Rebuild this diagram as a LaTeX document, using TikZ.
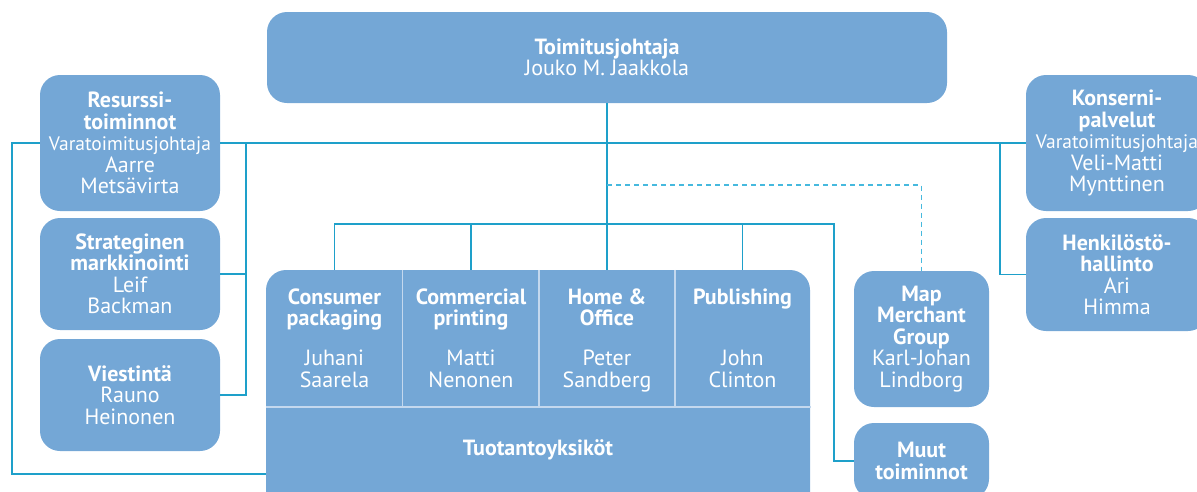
\documentclass[tikz,border=0pt]{standalone}
\usepackage{fontspec}
\setmainfont{PT Sans}
\usetikzlibrary{positioning}
\definecolor{boxblue}{RGB}{116,167,214}
\definecolor{linecyan}{RGB}{30,160,202}
\definecolor{dashcyan}{RGB}{70,185,222}
\definecolor{divline}{RGB}{196,216,238}
\newcommand{\vtj}{{\fontsize{19.5}{21.5}\selectfont Varatoimitusjohtaja}}

\begin{document}
\begin{tikzpicture}[%
        x=1pt, y=-1pt,
        every node/.style={font=\fontsize{22}{21.5}\selectfont, text=white, align=center, inner sep=0pt},
        unit/.style={rectangle, rounded corners=20pt, fill=boxblue, minimum width=180pt},
        column/.style={rectangle, minimum width=136pt, minimum height=132pt},
        conn/.style={draw=linecyan, line width=1.2pt},
        divider/.style={draw=divline, line width=1.5pt}
      ]
      \useasboundingbox (0,0) rectangle (1197,491);
      \clip (0,0) rectangle (1197,491);
      % top
      \node [unit, minimum width=680pt, minimum height=91pt] (ceo) at (607,57.5) {\textbf{Toimitusjohtaja}\\Jouko M. Jaakkola};
      % left column
      \node [unit, minimum height=136pt] (res) at (130,143) {\textbf{Resurssi-}\\\textbf{toiminnot}\\\vtj\\Aarre\\Metsävirta};
      \node [unit, minimum height=112pt] (str) at (130,274) {\textbf{Strateginen}\\\textbf{markkinointi}\\Leif\\Backman};
      \node [unit, minimum height=112pt] (vie) at (130,395) {\textbf{Viestintä}\\Rauno\\Heinonen};
      % right column
      \node [unit, minimum width=182pt, minimum height=136pt] (kon) at (1117,143) {\textbf{Konserni-}\\\textbf{palvelut}\\\vtj\\Veli-Matti\\Mynttinen};
      \node [unit, minimum width=182pt, minimum height=113pt] (hen) at (1117,274.5) {\textbf{Henkilöstö-}\\\textbf{hallinto}\\Ari\\Himma};
      \node [unit, minimum width=135pt, minimum height=136pt] (map) at (921.5,339) {\textbf{Map}\\\textbf{Merchant}\\\textbf{Group}\\Karl-Johan\\Lindborg};
      \node [unit, minimum width=135pt, minimum height=76pt] (muut) at (921.5,461) {\textbf{Muut}\\\textbf{toiminnot}};
      % production units
      \node [unit, minimum width=544pt, minimum height=260pt] (prod) at (538,400) {};
      \node [column] (cons) at (334.5,341) {\textbf{Consumer}\\\textbf{packaging}\\[18.5pt]Juhani\\Saarela\strut};
      \node [column] (comm) at (471,341) {\textbf{Commercial}\\\textbf{printing}\\[18.5pt]Matti\\Nenonen\strut};
      \node [column] (home) at (607,341) {\textbf{Home \&}\\\textbf{Office}\\[18.5pt]Peter\\Sandberg\strut};
      \node [column] (publ) at (742.5,341) {\textbf{Publishing}\\\mbox{}\\[18.5pt]John\\Clinton\strut};
      \node [] (tuot) at (538,450) {\textbf{Tuotantoyksiköt}};
      \path [divider] (cons.east |- prod.north) -- (cons.south east)
      (comm.east |- prod.north) -- (comm.south east)
      (home.east |- prod.north) -- (home.south east)
      (cons.south west) -- (publ.south east);
      % connectors
      \coordinate (bus) at (607,224);
      \coordinate (busR) at (834,224);
      \coordinate (dash) at (607,185);
      \coordinate (lbar) at (246,143);
      \coordinate (rbar) at (1000,143);
      \coordinate (lfoot) at (12,474);
      \path [conn] (ceo.south) -- (home.north |- prod.north)
      (res.east) -- (kon.west)
      (cons.north |- prod.north) |- (busR) |- (muut.west)
      (comm.north |- prod.north) -- (comm.north |- bus)
      (publ.north |- prod.north) -- (publ.north |- bus)
      (lbar) |- (str.east)
      (lbar) |- (vie.east)
      (rbar) |- (hen.west)
      (res.west) -| (lfoot) -- (lfoot -| prod.west);
      \draw [conn, draw=dashcyan, dash pattern=on 5pt off 4pt] (dash) -| (map.north);
    \end{tikzpicture}
\end{document}
